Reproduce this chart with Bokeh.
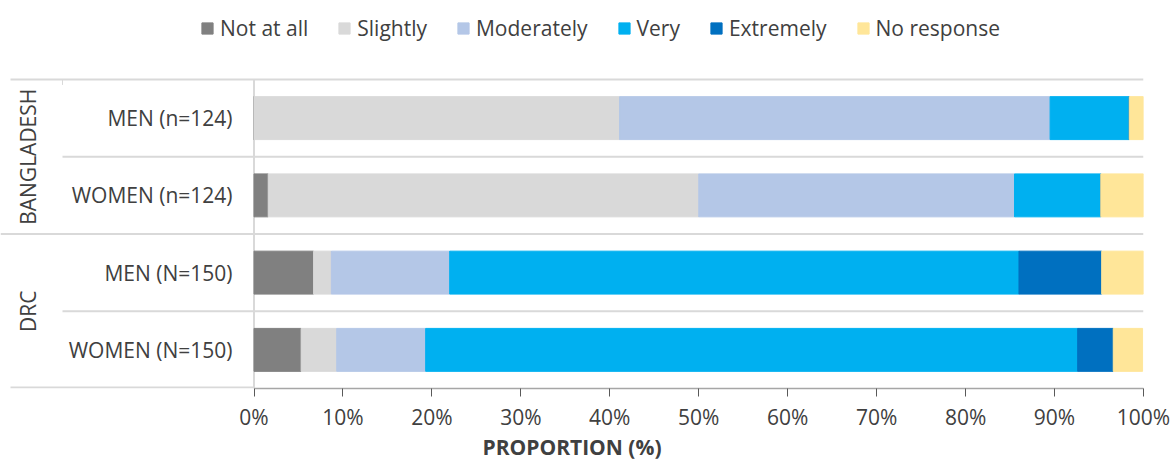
import math
from bokeh.plotting import figure
from bokeh.models import (Range1d, FixedTicker, Legend, LegendItem, ColumnDataSource,
                          CustomJSTickFormatter)
from bokeh.embed import file_html
from bokeh.resources import INLINE
from bokeh.core.properties import value

# ---------------- data ----------------
groups = ["BANGLADESH", "DRC"]
rows = ["MEN (n=124)", "WOMEN (n=124)", "MEN (N=150)", "WOMEN (N=150)"]
responses = ["Not at all", "Slightly", "Moderately", "Very", "Extremely", "No response"]
not_at_all = [0.0, 1.6, 6.7, 5.3]
slightly = [41.1, 48.4, 2.0, 4.0]
moderately = [48.4, 35.5, 13.3, 10.0]
very = [8.9, 9.7, 64.0, 73.3]
extremely = [0.0, 0.0, 9.3, 4.0]
no_response = [1.6, 4.8, 4.7, 3.3]
x_ticks = [0, 10, 20, 30, 40, 50, 60, 70, 80, 90, 100]
x_title = "PROPORTION (%)"
colors = ["#808080", "#D9D9D9", "#B4C7E7", "#00B0F0", "#0070C0", "#FFE699"]

FONT = "Open Sans"
TXT = "#404040"
SEP = "#D9D9D9"

n = len(rows)
ys = [n - i - 0.5 for i in range(n)]
src = ColumnDataSource(dict(y=ys, rows=rows, **{r: v for r, v in zip(
    responses, [not_at_all, slightly, moderately, very, extremely, no_response])}))

# frame geometry (canvas px): frame spans x 0..1143, y 0..388
X0 = 253.5
px_per_unit = (1143.0 - X0) / 100.0
ROW = 77.25
xmin = -X0 / px_per_unit
ytop = 388.0 / ROW

def xpage(px):
    return (px - X0) / px_per_unit

p = figure(width=1172, height=464, x_range=Range1d(xmin, 100), y_range=Range1d(0, ytop),
           output_backend="svg", toolbar_location=None, y_axis_location=None,
           min_border_left=0, min_border_right=29, min_border_top=0, min_border_bottom=76)
p.outline_line_color = None
p.xgrid.visible = False
p.ygrid.visible = False
p.background_fill_color = "white"

# separators
p.segment(x0=[xpage(10), xpage(0), xpage(62), xpage(62), xpage(10)],
          y0=[4, 2, 3, 1, 0.012],
          x1=[100, 100, 100, 100, 0],
          y1=[4, 2, 3, 1, 0.012],
          line_color=SEP, line_width=2)
p.segment(x0=[0], y0=[0], x1=[0], y1=[4], line_color=SEP, line_width=2)
p.segment(x0=[xpage(62)], y0=[4], x1=[xpage(62)], y1=[3.93], line_color=SEP, line_width=1)

# bars
rs = p.hbar_stack(responses, y="y", height=0.556, color=colors, source=src)

# row labels
p.text(x=xpage(232), y="y", text="rows", source=src, text_align="right", text_baseline="middle",
       text_font=value(FONT), text_font_size="21px", text_color=TXT)
# group labels
p.text(x=[xpage(27)] * 2, y=[3, 1], text=groups, angle=math.pi / 2, text_align="center",
       text_baseline="middle", text_font=value(FONT), text_font_size="21px", text_color=TXT)

# axis
ax = p.xaxis[0]
ax.bounds = (0, 100)
ax.ticker = FixedTicker(ticks=x_ticks)
ax.formatter = CustomJSTickFormatter(code="return tick + '%'")
ax.axis_line_color = "#A6A6A6"
ax.axis_line_width = 1.5
ax.major_tick_line_color = "#595959"
ax.major_tick_out = 8
ax.major_tick_in = 0
ax.minor_tick_line_color = None
ax.major_label_text_font = FONT
ax.major_label_text_font_size = "21px"
ax.major_label_text_color = TXT
ax.major_label_standoff = 6
ax.axis_label = x_title
ax.axis_label_text_font = FONT
ax.axis_label_text_font_size = "21px"
ax.axis_label_text_font_style = "bold"
ax.axis_label_text_color = TXT
ax.axis_label_standoff = -1

# legend
items = [LegendItem(label=r, renderers=[rr]) for r, rr in zip(responses, rs)]
leg = Legend(items=items, orientation="horizontal", location=(200, 346),
             glyph_width=14, glyph_height=14, label_standoff=6, spacing=29,
             padding=0, margin=0, border_line_color=None, background_fill_alpha=0,
             label_text_font=FONT, label_text_font_size="21px", label_text_color=TXT)
p.add_layout(leg)

open("out.html", "w").write(file_html(p, INLINE))
